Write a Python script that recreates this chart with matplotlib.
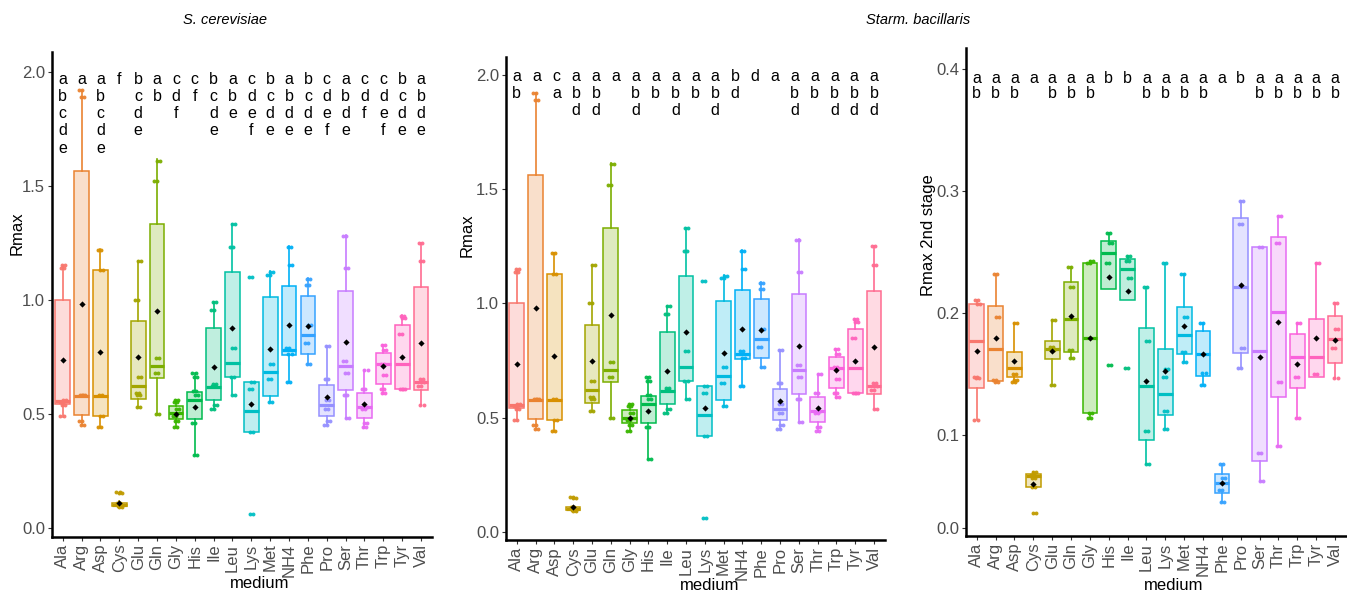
import matplotlib
matplotlib.use("Agg")
import matplotlib.pyplot as plt
from matplotlib.colors import to_rgba

plt.rcParams['font.family'] = ['Liberation Sans', 'DejaVu Sans']

# ---------------- data ----------------
media = ["Ala", "Arg", "Asp", "Cys", "Glu", "Gln", "Gly", "His", "Ile", "Leu",
         "Lys", "Met", "NH4", "Phe", "Pro", "Ser", "Thr", "Trp", "Tyr", "Val"]
colors = ["#F8766D", "#EA8331", "#D89000", "#C09B00", "#A3A500", "#7CAE00", "#39B600",
          "#00BB4E", "#00BF7D", "#00C1A3", "#00BFC4", "#00BAE0", "#00B0F6", "#35A2FF",
          "#9590FF", "#C77CFF", "#E76BF3", "#FA62DB", "#FF62BC", "#FF6C91"]

# Rmax (same values in the S. cerevisiae and Starm. bacillaris Rmax panels)
rmax_q1 = [0.542, 0.496, 0.491, 0.095, 0.565, 0.655, 0.477, 0.477, 0.560, 0.660,
           0.418, 0.576, 0.757, 0.762, 0.488, 0.605, 0.481, 0.631, 0.609, 0.605]
rmax_med = [0.554, 0.579, 0.579, 0.100, 0.620, 0.710, 0.501, 0.561, 0.615, 0.722,
            0.510, 0.681, 0.781, 0.845, 0.539, 0.707, 0.528, 0.718, 0.718, 0.640]
rmax_q3 = [1.000, 1.563, 1.130, 0.110, 0.905, 1.330, 0.535, 0.593, 0.875, 1.120,
           0.637, 1.010, 1.058, 1.018, 0.627, 1.040, 0.589, 0.766, 0.889, 1.054]
rmax_lo = [0.487, 0.450, 0.440, 0.090, 0.530, 0.500, 0.440, 0.320, 0.520, 0.580,
           0.418, 0.550, 0.637, 0.718, 0.450, 0.480, 0.437, 0.586, 0.605, 0.540]
rmax_hi = [1.146, 1.920, 1.222, 0.115, 1.170, 1.615, 0.560, 0.678, 0.990, 1.332,
           0.637, 1.125, 1.234, 1.093, 0.795, 1.284, 0.693, 0.800, 0.933, 1.250]
rmax_mean = [0.737, 0.981, 0.772, 0.108, 0.747, 0.950, 0.500, 0.531, 0.706, 0.874,
             0.542, 0.784, 0.890, 0.886, 0.575, 0.816, 0.542, 0.707, 0.750, 0.808]
rmax_points = [
    [0.49, 0.54, 0.55, 0.56, 1.14, 1.15],
    [0.45, 0.47, 0.58, 0.58, 1.89, 1.92],
    [0.44, 0.49, 0.58, 1.13, 1.22],
    [0.09, 0.095, 0.10, 0.11, 0.15, 0.155],
    [0.53, 0.58, 0.59, 0.66, 1.00, 1.17],
    [0.50, 0.68, 0.745, 1.52, 1.61],
    [0.44, 0.47, 0.49, 0.52, 0.55, 0.56],
    [0.32, 0.46, 0.58, 0.60, 0.66, 0.68],
    [0.52, 0.54, 0.62, 0.63, 0.955, 0.99],
    [0.58, 0.66, 0.79, 1.23, 1.33],
    [0.06, 0.42, 0.61, 0.64, 1.10],
    [0.55, 0.65, 0.72, 1.11, 1.12],
    [0.64, 0.76, 0.79, 1.15, 1.23],
    [0.72, 0.81, 0.89, 1.065, 1.09],
    [0.45, 0.47, 0.52, 0.56, 0.65, 0.795],
    [0.48, 0.58, 0.68, 0.73, 1.14, 1.28],
    [0.44, 0.46, 0.52, 0.53, 0.61, 0.69],
    [0.59, 0.61, 0.67, 0.72, 0.78, 0.80],
    [0.61, 0.61, 0.85, 0.92, 0.93],
    [0.54, 0.62, 0.64, 0.65, 1.17, 1.25],
]

# Rmax 2nd stage (Starm. bacillaris)
r2_q1 = [0.1385, 0.1445, 0.1481, 0.058, 0.1623, 0.168, 0.118, 0.2197, 0.2109, 0.0962,
         0.1167, 0.1664, 0.1486, 0.053, 0.1672, 0.079, 0.1311, 0.1391, 0.1481, 0.159]
r2_med = [0.1773, 0.1708, 0.1549, 0.067, 0.1708, 0.1954, 0.1795, 0.2492, 0.2363, 0.1404,
          0.1336, 0.1822, 0.1664, 0.0607, 0.2219, 0.1694, 0.2008, 0.1639, 0.1645, 0.1787]
r2_q3 = [0.2077, 0.206, 0.168, 0.0683, 0.1776, 0.2254, 0.241, 0.2593, 0.2443, 0.1883,
         0.1705, 0.2055, 0.1855, 0.068, 0.2779, 0.2541, 0.2628, 0.1831, 0.1954, 0.1978]
r2_lo = [0.1126, 0.144, 0.144, 0.058, 0.1413, 0.1637, 0.1145, 0.2197, 0.2109, 0.0765,
         0.1052, 0.1604, 0.1413, 0.0451, 0.1549, 0.0626, 0.0915, 0.1145, 0.148, 0.1473]
r2_hi = [0.2105, 0.2322, 0.1918, 0.070, 0.1945, 0.2383, 0.2432, 0.2656, 0.247, 0.2213,
         0.241, 0.2322, 0.1918, 0.0765, 0.2924, 0.2546, 0.2798, 0.1918, 0.241, 0.2087]
r2_mean = [0.1694, 0.1795, 0.1612, 0.0598, 0.1694, 0.1981, 0.1795, 0.230, 0.2186, 0.1445,
           0.153, 0.1896, 0.1664, 0.0607, 0.2232, 0.1639, 0.1932, 0.1582, 0.1795, 0.1781]
r2_points = [
    [0.1126, 0.1473, 0.1475, 0.208, 0.2105],
    [0.144, 0.145, 0.1973, 0.2322],
    [0.144, 0.145, 0.150, 0.1918],
    [0.036, 0.058, 0.0648, 0.0675, 0.0697],
    [0.1413, 0.170, 0.1727, 0.1945],
    [0.1637, 0.170, 0.2213, 0.2383],
    [0.1145, 0.118, 0.241, 0.2432],
    [0.1576, 0.241, 0.2574, 0.2656],
    [0.1549, 0.2292, 0.2429, 0.247],
    [0.0765, 0.1036, 0.1776, 0.2213],
    [0.1052, 0.1202, 0.1475, 0.1544, 0.241],
    [0.1604, 0.1686, 0.1967, 0.2322],
    [0.1413, 0.1508, 0.1918],
    [0.0451, 0.0552, 0.0653, 0.0765],
    [0.1549, 0.1713, 0.2732, 0.2924],
    [0.0626, 0.0852, 0.2541],
    [0.0915, 0.144, 0.2574, 0.2798],
    [0.1145, 0.1475, 0.1918],
    [0.150, 0.241],
    [0.1473, 0.1713, 0.1869, 0.2087],
]

letters_sc = ["abcde", "a", "abcde", "f", "bcde", "ab", "cdf", "cf", "bcde", "abe",
              "cdef", "bcde", "abde", "bcde", "cdef", "abde", "cdf", "cdef", "bcde", "abde"]
letters_sb = ["ab", "a", "ca", "abd", "abd", "a", "abd", "ab", "abd", "ab",
              "abd", "bd", "d", "a", "abd", "ab", "abd", "abd", "abd"]
letters_sb2 = ["ab", "ab", "ab", "a", "ab", "ab", "ab", "b", "b", "ab",
               "ab", "ab", "ab", "a", "b", "ab", "ab", "ab", "ab", "ab"]

rmax_ticks = [0.0, 0.5, 1.0, 1.5, 2.0]
rmax_ticklabels = ["0.0", "0.5", "1.0", "1.5", "2.0"]
r2_ticks = [0.0238, 0.1, 0.2, 0.3, 0.4]
r2_ticklabels = ["0.0", "0.1", "0.2", "0.3", "0.4"]

# ---------------- figure ----------------
W, H = 1347, 594
fig = plt.figure(figsize=(W / 100, H / 100), dpi=100)
GRAY = "#4D4D4D"


def px_axes(l, t, r, b):
    return fig.add_axes([l / W, 1 - b / H, (r - l) / W, (b - t) / H])


pair_offsets = [-0.12, -0.03, -0.15, 0.0, -0.08, -0.05]


def draw_panel(ax, q1, med, q3, lo, hi, mean, pts, ylim, yticks, yticklabels,
               letters, letter_x, letter_y0, step_px):
    pos = list(range(1, len(media) + 1))
    stats = [dict(q1=q1[i], med=med[i], q3=q3[i], whislo=lo[i], whishi=hi[i],
                  mean=mean[i], fliers=[], label=media[i]) for i in range(len(media))]
    art = ax.bxp(stats, positions=pos, widths=0.78, patch_artist=True,
                 showcaps=False, showfliers=False, showmeans=False, manage_ticks=False)
    for i, c in enumerate(colors):
        art['boxes'][i].set(facecolor=to_rgba(c, 0.25), edgecolor=c, linewidth=1.1, zorder=2)
        art['medians'][i].set(color=c, linewidth=2.3, solid_capstyle='butt', zorder=3)
        for w in art['whiskers'][2 * i:2 * i + 2]:
            w.set(color=c, linewidth=1.2, zorder=1.5)
    for i, vals in enumerate(pts):
        xs, ys = [], []
        for k, v in enumerate(vals):
            dx = pair_offsets[(k + i) % len(pair_offsets)]
            xs += [pos[i] + dx, pos[i] + dx + 0.16]
            ys += [v, v]
        ax.scatter(xs, ys, s=8, color=colors[i], lw=0, zorder=4, alpha=0.95)
    ax.scatter(pos, mean, marker='D', s=10, color='black', lw=0, zorder=5)

    for i, s in enumerate(letters):
        for k, ch in enumerate(s):
            ax.annotate(ch, xy=(letter_x[i], letter_y0), xytext=(0, -k * step_px * 0.72),
                        textcoords='offset points', ha='center', va='center',
                        fontsize=11.5, color='black', annotation_clip=False)

    ax.set_xlim(0.43, 20.58)
    ax.set_ylim(*ylim)
    ax.set_xticks(pos)
    ax.set_xticklabels(media, rotation=90, fontsize=12, color=GRAY)
    ax.set_yticks(yticks)
    ax.set_yticklabels(yticklabels, fontsize=12, color=GRAY)
    ax.tick_params(axis='both', length=3, width=0.8, color='#333333', pad=2)
    for sp in ['top', 'right']:
        ax.spines[sp].set_visible(False)
    for sp in ['left', 'bottom']:
        ax.spines[sp].set_linewidth(1.8)
        ax.spines[sp].set_color('black')
    ax.set_facecolor('white')


ax1 = px_axes(52, 51.7, 432, 536.7)
ax2 = px_axes(506, 56.7, 885, 540)
ax3 = px_axes(966, 48.3, 1346, 535.7)

pos20 = [i + 1 for i in range(20)]
pos19 = [1 + i * 19 / 18 for i in range(19)]

draw_panel(ax1, rmax_q1, rmax_med, rmax_q3, rmax_lo, rmax_hi, rmax_mean, rmax_points,
           (-0.0395, 2.0877), rmax_ticks, rmax_ticklabels, letters_sc, pos20, 1.967, 17.25)
draw_panel(ax2, rmax_q1, rmax_med, rmax_q3, rmax_lo, rmax_hi, rmax_mean, rmax_points,
           (-0.035, 2.08), rmax_ticks, rmax_ticklabels, letters_sb, pos19, 1.993, 17.0)
draw_panel(ax3, r2_q1, r2_med, r2_q3, r2_lo, r2_hi, r2_mean, r2_points,
           (0.0177, 0.4172), r2_ticks, r2_ticklabels, letters_sb2, pos20, 0.3926, 15.0)


def ftext(x, y, s, **kw):
    fig.text(x / W, 1 - y / H, s, ha='center', va='center', **kw)


ftext(225, 20, "S. cerevisiae", fontsize=10.5, style='italic')
ftext(918, 20, "Starm. bacillaris", fontsize=10.5, style='italic')
ftext(17, 233, "Rmax", fontsize=12, rotation=90)
ftext(467, 235, "Rmax", fontsize=12, rotation=90)
ftext(928, 235, "Rmax 2nd stage", fontsize=12, rotation=90)
ftext(260, 584, "medium", fontsize=12)
ftext(710, 586, "medium", fontsize=12)
ftext(1174, 586, "medium", fontsize=12)

fig.savefig("out.png", dpi=100, facecolor='white')
